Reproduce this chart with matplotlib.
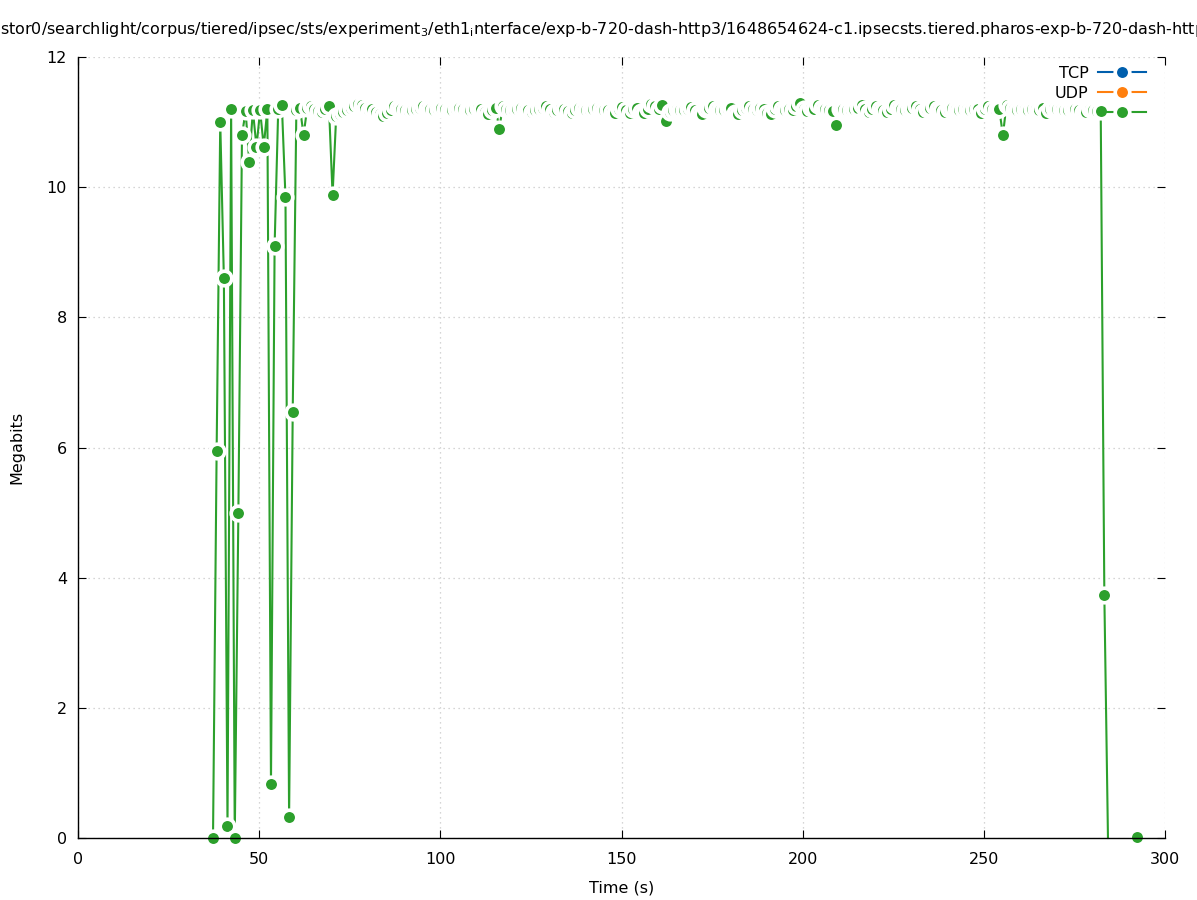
import numpy as np
import matplotlib
matplotlib.use("Agg")
import matplotlib.pyplot as plt
from matplotlib.lines import Line2D

# ---------------- data ----------------
title_text = ("stor0/searchlight/corpus/tiered/ipsec/sts/experiment${}_3$/eth1${}_\\mathrm{i}$nterface/"
              "exp-b-720-dash-http3/1648654624-c1.ipsecsts.tiered.pharos-exp-b-720-dash-http3/"
              "eth1_interface")
x_label = "Time (s)"
y_label = "Megabits"
legend_labels = ["TCP", "UDP", ""]
x_ticks = [0, 50, 100, 150, 200, 250, 300]
y_ticks = [0, 2, 4, 6, 8, 10, 12]

sample_phase = 0.26
time_s = [
    37, 38, 39, 40, 41, 42, 43, 44, 45, 46,
    47, 48, 49, 50, 51, 52, 53, 54, 55, 56,
    57, 58, 59, 60, 61, 62, 63, 64, 65, 66,
    67, 68, 69, 70, 71, 72, 73, 74, 75, 76,
    77, 78, 79, 80, 81, 82, 83, 84, 85, 86,
    87, 88, 89, 90, 91, 92, 93, 94, 95, 96,
    97, 98, 99, 100, 101, 102, 103, 104, 105, 106,
    107, 108, 109, 110, 111, 112, 113, 114, 115, 116,
    117, 118, 119, 120, 121, 122, 123, 124, 125, 126,
    127, 128, 129, 130, 131, 132, 133, 134, 135, 136,
    137, 138, 139, 140, 141, 142, 143, 144, 145, 146,
    147, 148, 149, 150, 151, 152, 153, 154, 155, 156,
    157, 158, 159, 160, 161, 162, 163, 164, 165, 166,
    167, 168, 169, 170, 171, 172, 173, 174, 175, 176,
    177, 178, 179, 180, 181, 182, 183, 184, 185, 186,
    187, 188, 189, 190, 191, 192, 193, 194, 195, 196,
    197, 198, 199, 200, 201, 202, 203, 204, 205, 206,
    207, 208, 209, 210, 211, 212, 213, 214, 215, 216,
    217, 218, 219, 220, 221, 222, 223, 224, 225, 226,
    227, 228, 229, 230, 231, 232, 233, 234, 235, 236,
    237, 238, 239, 240, 241, 242, 243, 244, 245, 246,
    247, 248, 249, 250, 251, 252, 253, 254, 255, 256,
    257, 258, 259, 260, 261, 262, 263, 264, 265, 266,
    267, 268, 269, 270, 271, 272, 273, 274, 275, 276,
    277, 278, 279, 280, 281, 282, 283, 284, 292,
]
megabits = [
    0.0, 5.95, 11.0, 8.6, 0.18, 11.2, 0.0, 5.0, 10.8, 11.17,
    10.38, 11.18, 10.62, 11.18, 10.62, 11.2, 0.83, 9.1, 11.2, 11.27,
    9.85, 0.32, 6.55, 11.18, 11.22, 10.8, 11.22, 11.25, 11.2, 11.17,
    11.16, 11.2, 11.25, 9.88, 11.1, 11.12, 11.15, 11.18, 11.22, 11.24,
    11.28, 11.26, 11.22, 11.18, 11.2, 11.15, 11.12, 11.1, 11.14, 11.18,
    11.24, 11.22, 11.2, 11.18, 11.17, 11.19, 11.2, 11.22, 11.24, 11.21,
    11.2, 11.19, 11.2, 11.21, 11.2, 11.19, 11.18, 11.2, 11.21, 11.2,
    11.19, 11.18, 11.2, 11.22, 11.2, 11.16, 11.13, 11.18, 11.22, 10.9,
    11.24, 11.2, 11.19, 11.18, 11.2, 11.22, 11.2, 11.18, 11.16, 11.19,
    11.2, 11.22, 11.24, 11.2, 11.15, 11.18, 11.22, 11.2, 11.17, 11.14,
    11.19, 11.22, 11.2, 11.18, 11.19, 11.2, 11.21, 11.2, 11.19, 11.18,
    11.16, 11.14, 11.2, 11.23, 11.18, 11.14, 11.2, 11.22, 11.16, 11.14,
    11.2, 11.28, 11.24, 11.2, 11.27, 11.02, 11.15, 11.18, 11.2, 11.19,
    11.18, 11.2, 11.23, 11.18, 11.14, 11.12, 11.2, 11.22, 11.24, 11.2,
    11.19, 11.18, 11.2, 11.22, 11.14, 11.12, 11.18, 11.22, 11.25, 11.2,
    11.19, 11.22, 11.2, 11.14, 11.12, 11.2, 11.25, 11.2, 11.19, 11.2,
    11.18, 11.24, 11.3, 11.2, 11.17, 11.22, 11.2, 11.26, 11.22, 11.2,
    11.18, 11.17, 10.96, 11.2, 11.2, 11.19, 11.18, 11.2, 11.22, 11.27,
    11.2, 11.15, 11.2, 11.25, 11.2, 11.18, 11.16, 11.2, 11.27, 11.22,
    11.2, 11.18, 11.2, 11.22, 11.25, 11.2, 11.16, 11.2, 11.22, 11.24,
    11.2, 11.18, 11.16, 11.2, 11.21, 11.2, 11.19, 11.2, 11.2, 11.19,
    11.2, 11.2, 11.14, 11.2, 11.25, 11.2, 11.18, 11.2, 10.8, 11.27,
    11.22, 11.2, 11.19, 11.2, 11.2, 11.18, 11.2, 11.2, 11.18, 11.22,
    11.14, 11.2, 11.22, 11.2, 11.2, 11.18, 11.19, 11.2, 11.2, 11.18,
    11.16, 11.15, 11.2, 11.18, 11.17, 11.17, 3.73, 0.0, 0.02,
]

# ---------------- style ----------------
W, H, DPI = 1197, 900, 100
FS = 11.5
GREEN = "#2ca02c"
BLUE = "#005fad"
ORANGE = "#ff7f0e"

plt.rcParams["font.family"] = ["DejaVu Sans"]
plt.rcParams["mathtext.fontset"] = "dejavusans"

fig = plt.figure(figsize=(W / DPI, H / DPI), dpi=DPI)
ax = fig.add_axes([78 / W, (H - 838) / H, (1165 - 78) / W, (838 - 57) / H])

t = np.array(time_s, dtype=float) + sample_phase
v = np.array(megabits, dtype=float)
# break the line before the final isolated sample
t_plot = np.concatenate([t[:-1], [np.nan], t[-1:]])
v_plot = np.concatenate([v[:-1], [np.nan], v[-1:]])
n = len(t_plot)
hidden_marker = n - 3  # sample at 284 s has no visible marker
mark_idx = [i for i in range(n) if i != hidden_marker and not np.isnan(v_plot[i])]

ms, mew, lw = 10.5, 2.6, 1.5
ax.plot(t_plot, v_plot, color=GREEN, lw=lw, marker="o", ms=ms,
        mfc=GREEN, mec="white", mew=mew, markevery=mark_idx, zorder=3,
        clip_on=False)

ax.set_xlim(0, 300)
ax.set_ylim(0, 12)
ax.set_xticks(x_ticks)
ax.set_yticks(y_ticks)
ax.tick_params(direction="in", length=6, width=0.8, top=True, right=True,
               labelsize=FS, color="black")
ax.tick_params(axis="x", pad=10)
ax.tick_params(axis="y", pad=8)
ax.grid(True, color="#c8c8c8", linestyle=(0, (1, 3)), linewidth=0.9)
ax.set_axisbelow(True)
for s in ("top", "right"):
    ax.spines[s].set_visible(False)
for s in ("left", "bottom"):
    ax.spines[s].set_linewidth(1.0)
    ax.spines[s].set_zorder(4)

ax.set_xlabel(x_label, fontsize=FS, labelpad=10)
ax.set_ylabel(y_label, fontsize=FS, labelpad=16)

fig.text(0.0, 1 - 30 / H, title_text, fontsize=FS, ha="left", va="center")

lms, lmew = 10.5, 2.6
handles = [
    Line2D([], [], color=BLUE, lw=lw, marker="o", ms=lms, mfc=BLUE, mec="white", mew=lmew),
    Line2D([], [], color=ORANGE, lw=lw, marker="o", ms=lms, mfc=ORANGE, mec="white", mew=lmew),
    Line2D([], [], color=GREEN, lw=lw, marker="o", ms=lms, mfc=GREEN, mec="white", mew=lmew),
]
leg = ax.legend(handles, legend_labels, loc="upper right",
                bbox_to_anchor=(1146 / W, 1 - 66 / H), bbox_transform=fig.transFigure,
                frameon=False, markerfirst=False, fontsize=FS, handlelength=3.0,
                handletextpad=0.6, labelspacing=0.3, borderaxespad=0, borderpad=0)
leg.set_zorder(5)

fig.savefig("out.png", dpi=DPI)
